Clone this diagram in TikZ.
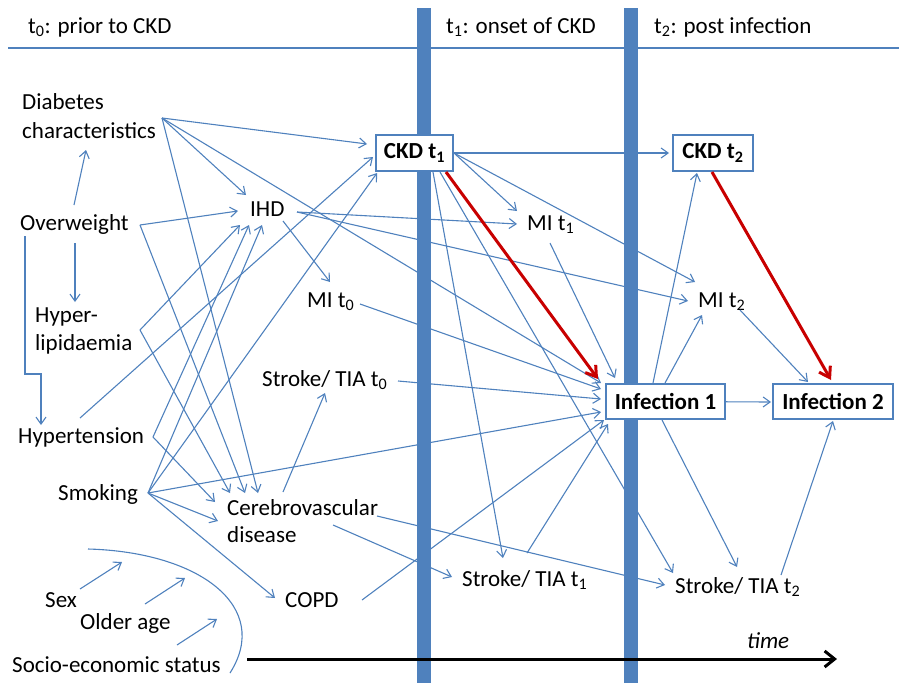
\documentclass[tikz,border=0pt]{standalone}
\usepackage{fontspec}
\setmainfont{Carlito}
\usetikzlibrary{arrows.meta}
\definecolor{linkblue}{HTML}{4F81BD}
\definecolor{causalred}{HTML}{C80000}

\begin{document}
\begin{tikzpicture}[x=1pt,y=-1pt,
  txt/.style={anchor=base west, inner sep=0pt, font=\fontsize{23}{28}\selectfont},
  boxnode/.style={draw=linkblue, line width=1.4pt, fill=white, inner sep=0pt,
    font=\fontsize{23}{28}\selectfont\bfseries},
  link/.style={draw=linkblue, line width=1.1pt,
    -{Straight Barb[length=7pt,width=10pt,line width=1.1pt]}},
  plainlink/.style={draw=linkblue, line width=1.1pt},
  redlink/.style={draw=causalred, line width=3pt,
    -{Straight Barb[length=10pt,width=13pt]}},
  timeline/.style={draw=black, line width=3pt,
    -{Straight Barb[length=10pt,width=16pt]}},
]
\useasboundingbox (0,0) rectangle (899,683);

% period header and separators
\draw[linkblue, line width=2pt] (8,48) -- (899,48);
\fill[linkblue] (417,8) rectangle (431,683);
\fill[linkblue] (624,8) rectangle (638,683);

\node[txt] (h0) at (28,33) {t\textsubscript{0}: prior to CKD};
\node[txt] (h1) at (446,33) {t\textsubscript{1}: onset of CKD};
\node[txt] (h2) at (654,33) {t\textsubscript{2}: post infection};

% baseline factors
\node[txt] (dia)  at (22,109) {Diabetes};
\node[txt] (dia2) at (22,138) {characteristics};
\node[txt] (ow)   at (20,230) {Overweight};
\node[txt] (hl)   at (35,322) {Hyper-};
\node[txt] (hl2)  at (35,350) {lipidaemia};
\node[txt] (ht)   at (18,443) {Hypertension};
\node[txt] (sm)   at (58,500) {Smoking};
\node[txt] (sex)  at (45,607) {Sex};
\node[txt] (age)  at (80,629) {Older age};
\node[txt] (ses)  at (12,672) {Socio-economic status};

% comorbidities at t0
\node[txt] (ihd)  at (250,216) {IHD};
\node[txt] (mi0)  at (307,307) {MI t\textsubscript{0}};
\node[txt] (st0)  at (262,386) {Stroke/ TIA t\textsubscript{0}};
\node[txt] (cv)   at (227,515) {Cerebrovascular};
\node[txt] (cv2)  at (227,542) {disease};
\node[txt] (copd) at (285,607) {COPD};

% t1 and t2 events
\node[txt] (mi1)  at (527,230) {MI t\textsubscript{1}};
\node[txt] (st1)  at (462,586) {Stroke/ TIA t\textsubscript{1}};
\node[txt] (mi2)  at (698,307) {MI t\textsubscript{2}};
\node[txt] (st2)  at (675,593) {Stroke/ TIA t\textsubscript{2}};
\node[txt, font=\fontsize{23}{28}\selectfont\itshape] (time) at (747,648) {time};

\node[boxnode, minimum width=77pt, minimum height=36pt] (ckd1) at (414.5,153) {CKD t\textsubscript{1}};
\node[boxnode, minimum width=80pt, minimum height=36pt] (ckd2) at (713,153) {CKD t\textsubscript{2}};
\node[boxnode, minimum width=119pt, minimum height=35pt] (inf1) at (665.5,401.5) {Infection 1};
\node[boxnode, minimum width=120pt, minimum height=35pt] (inf2) at (833,401.5) {Infection 2};

% connector ports
\coordinate (dia-o) at (162,118);
\coordinate (dia-i) at (86,150);
\coordinate (ow-o)  at (140,225);
\coordinate (ow-u)  at (74,205);
\coordinate (ow-d)  at (75,243);
\coordinate (ow-b)  at (25,236);
\coordinate (hl-i)  at (75,302);
\coordinate (hl-o)  at (140,330);
\coordinate (ht-knee) at (41,374);
\coordinate (ht-i)  at (41,425);
\coordinate (ht-o)  at (153,437);
\coordinate (ht-u)  at (80,418);
\coordinate (sm-o)  at (148,493);
\coordinate (ihd-i1) at (246,195);
\coordinate (ihd-i2) at (238,211);
\coordinate (ihd-i3) at (240,225);
\coordinate (ihd-i4) at (249,225);
\coordinate (ihd-i5) at (262,225);
\coordinate (ihd-o)  at (297,212);
\coordinate (ihd-b)  at (283,221);
\coordinate (mi0-i)  at (330,282);
\coordinate (mi0-o)  at (360,304);
\coordinate (st0-i)  at (325,393);
\coordinate (st0-o)  at (398,381);
\coordinate (cv-i1)  at (230,493);
\coordinate (cv-i2)  at (245,493);
\coordinate (cv-i3)  at (258,493);
\coordinate (cv-i4)  at (215,502);
\coordinate (cv-i5)  at (218,521);
\coordinate (cv-o1)  at (283,492);
\coordinate (cv-o2)  at (333,525);
\coordinate (cv-o3)  at (377,516);
\coordinate (copd-i) at (275,598);
\coordinate (copd-o) at (362,600);
\coordinate (ckd1-i1) at (367,144);
\coordinate (ckd1-i2) at (373,157);
\coordinate (ckd1-i3) at (377,173);
\coordinate (ckd1-o)  at (454,153);
\coordinate (ckd1-b1) at (433,172);
\coordinate (ckd1-b2) at (440,172);
\coordinate (ckd1-b3) at (446,172);
\coordinate (mi1-i1) at (517,211);
\coordinate (mi1-i2) at (517,224);
\coordinate (mi1-o)  at (550,243);
\coordinate (st1-i1) at (452,577);
\coordinate (st1-i2) at (503,558);
\coordinate (st1-o)  at (527,553);
\coordinate (inf1-r)  at (598,379);
\coordinate (inf1-i1) at (615,378);
\coordinate (inf1-i2) at (601,383);
\coordinate (inf1-i3) at (601,389);
\coordinate (inf1-i4) at (601,399);
\coordinate (inf1-i5) at (601,412);
\coordinate (inf1-i6) at (604,420);
\coordinate (inf1-i7) at (608,424);
\coordinate (inf1-t1) at (653,383);
\coordinate (inf1-t2) at (665,383);
\coordinate (inf1-b)  at (662,420);
\coordinate (ckd2-i)  at (669,153);
\coordinate (ckd2-ib) at (697,173);
\coordinate (ckd2-o)  at (712,172);
\coordinate (mi2-i1) at (695,282);
\coordinate (mi2-i2) at (688,301);
\coordinate (mi2-i3) at (702,315);
\coordinate (mi2-o)  at (740,310);
\coordinate (st2-i1) at (665,585);
\coordinate (st2-i2) at (673,573);
\coordinate (st2-i3) at (737,567);
\coordinate (st2-o)  at (781,575);
\coordinate (inf2-i1) at (771,402);
\coordinate (inf2-i2) at (808,382);
\coordinate (inf2-r)  at (831,380);
\coordinate (inf2-i3) at (833,421);
\coordinate (sex-o) at (80,589);   \coordinate (sex-i) at (122,562);
\coordinate (age-o) at (145,604);  \coordinate (age-i) at (185,578);
\coordinate (ses-o) at (177,645);  \coordinate (ses-i) at (217,619);
\coordinate (arc-a) at (88,549);   \coordinate (arc-b) at (230,673);
\coordinate (time-a) at (247,659); \coordinate (time-b) at (837,659);

% overweight
\draw[link] (ow-u) -- (dia-i);
\draw[link] (ow-d) -- (hl-i);
\draw[link] (ow-b) |- (ht-knee) -- (ht-i);
\draw[link] (ow-o) -- (ihd-i2);
\draw[link] (ow-o) -- (cv-i2);

% diabetes characteristics
\draw[link] (dia-o) -- (ckd1-i1);
\draw[link] (dia-o) -- (ihd-i1);
\draw[link] (dia-o) -- (cv-i3);
\draw[link] (dia-o) -- (inf1-i2);

% hyperlipidaemia, hypertension, smoking
\draw[link] (hl-o) -- (ihd-i3);
\draw[link] (hl-o) -- (cv-i1);
\draw[link] (ht-o) -- (ihd-i4);
\draw[link] (ht-o) -- (cv-i4);
\draw[link] (ht-u) -- (ckd1-i2);
\draw[link] (sm-o) -- (ihd-i5);
\draw[link] (sm-o) -- (ckd1-i3);
\draw[link] (sm-o) -- (cv-i5);
\draw[link] (sm-o) -- (copd-i);
\draw[link] (sm-o) -- (inf1-i5);

% t0 comorbidities
\draw[link] (ihd-b) -- (mi0-i);
\draw[link] (ihd-o) -- (mi1-i2);
\draw[link] (ihd-o) -- (mi2-i2);
\draw[link] (mi0-o) -- (inf1-i3);
\draw[link] (st0-o) -- (inf1-i4);
\draw[link] (cv-o1) -- (st0-i);
\draw[link] (cv-o2) -- (st1-i1);
\draw[link] (cv-o3) -- (st2-i1);
\draw[link] (copd-o) -- (inf1-i6);

% CKD at t1
\draw[link] (ckd1-o) -- (ckd2-i);
\draw[link] (ckd1-o) -- (mi1-i1);
\draw[link] (ckd1-o) -- (mi2-i1);
\draw[link] (ckd1-b1) -- (st1-i2);
\draw[link] (ckd1-b2) -- (st2-i2);
\draw[redlink] (ckd1-b3) -- (inf1-r);

% t1 events
\draw[link] (mi1-o) -- (inf1-i1);
\draw[link] (st1-o) -- (inf1-i7);

% infection 1 and t2
\draw[link] (inf1-t1) -- (ckd2-ib);
\draw[link] (inf1-t2) -- (mi2-i3);
\draw[link] (inf1) -- (inf2-i1);
\draw[link] (inf1-b) -- (st2-i3);
\draw[redlink] (ckd2-o) -- (inf2-r);
\draw[link] (mi2-o) -- (inf2-i2);
\draw[link] (st2-o) -- (inf2-i3);

% demographic factors acting on everything
\draw[link] (sex-o) -- (sex-i);
\draw[link] (age-o) -- (age-i);
\draw[link] (ses-o) -- (ses-i);
\draw[plainlink] (arc-a) .. controls (200,552) and (272,607) .. (arc-b);

% time axis
\draw[timeline] (time-a) -- (time-b);
\end{tikzpicture}
\end{document}
